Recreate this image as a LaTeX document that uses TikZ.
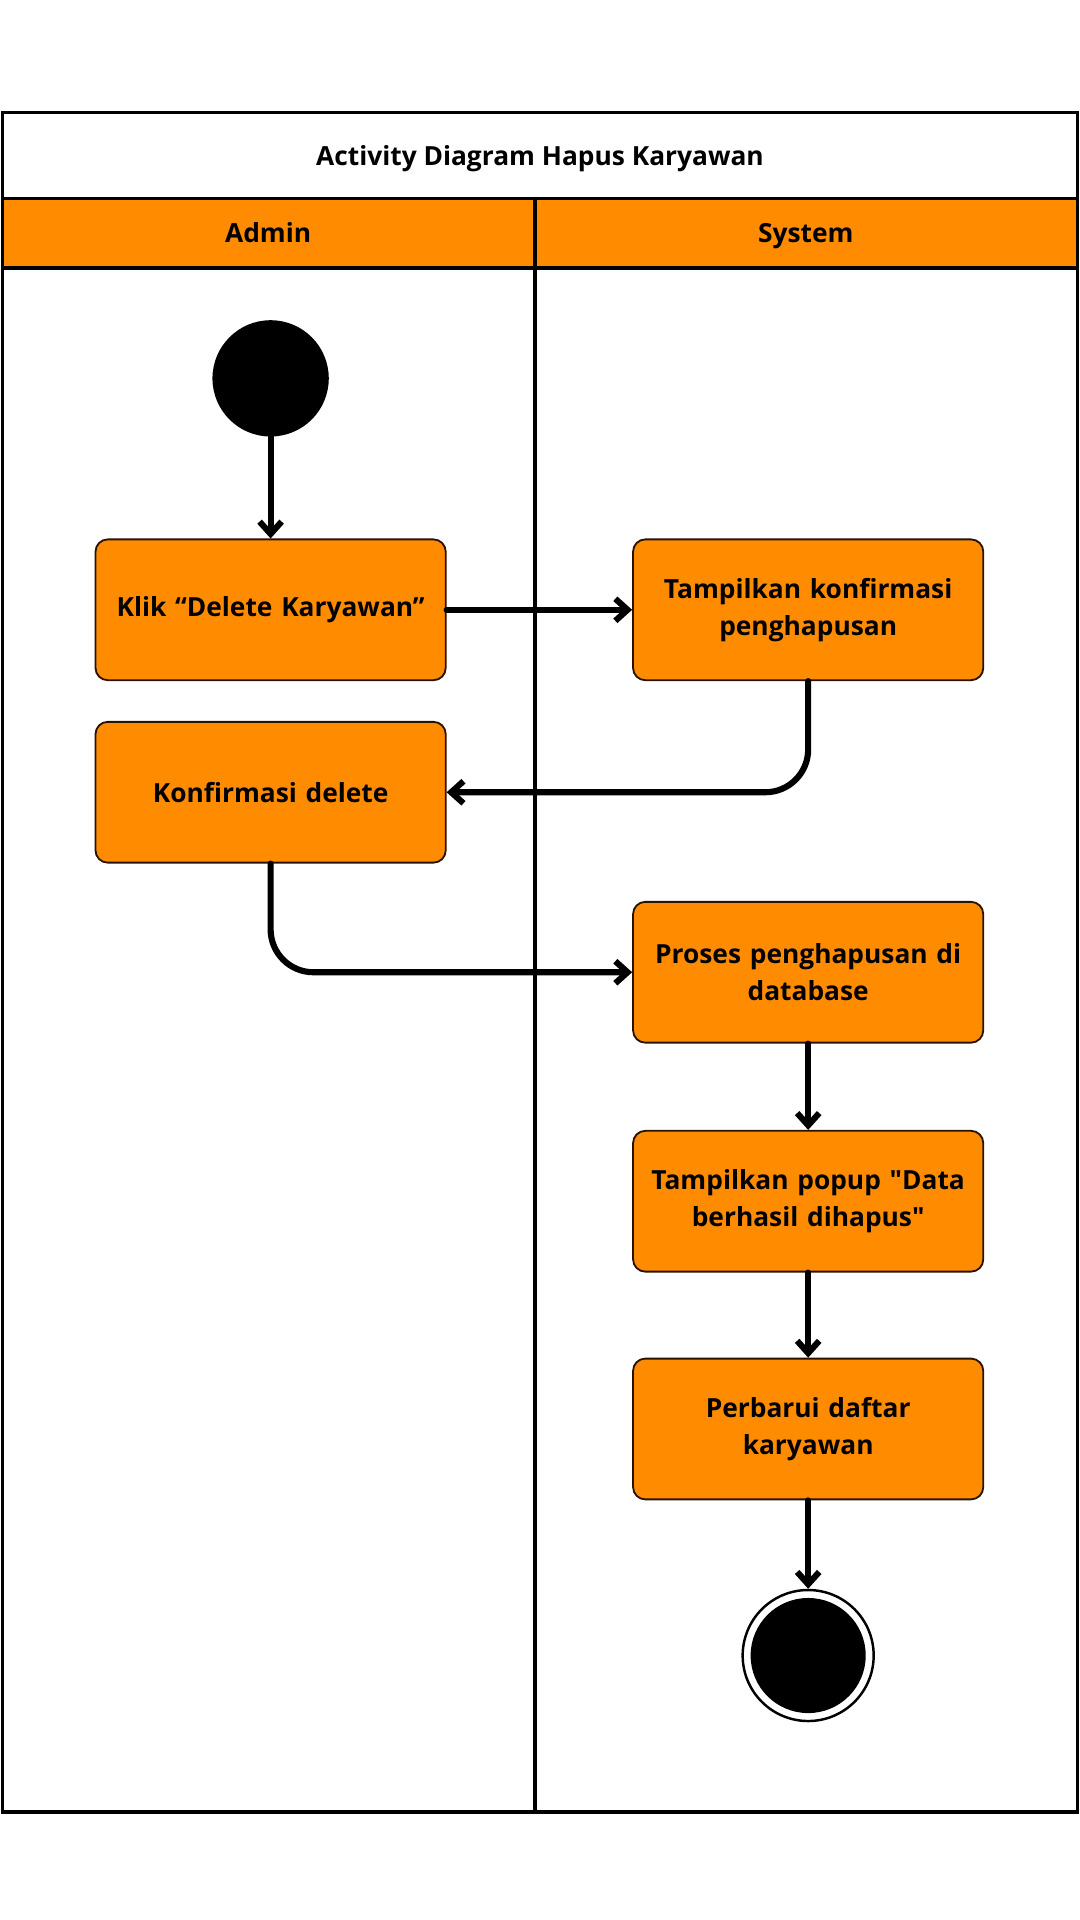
\documentclass[tikz,border=0pt]{standalone}
\usepackage{fontspec}
\setmainfont{Open Sans}[Ligatures=TeXOff]
\usetikzlibrary{arrows.meta}
\definecolor{org}{HTML}{FF8C00}
\definecolor{bord}{HTML}{2A1200}
\begin{document}
\begin{tikzpicture}[x=1pt,y=-1pt,
  act/.style={draw=bord, line width=1.5pt, fill=org, rounded corners=10pt,
    minimum width=286pt, minimum height=115pt, inner sep=0pt, text width=276pt,
    align=center, font=\fontsize{21.5}{30}\selectfont\bfseries},
  flow/.style={line width=5pt, line cap=round, line join=round, rounded corners=35pt,
    -{Straight Barb[length=10pt,width=18pt]}},
  lane/.style={anchor=base, font=\fontsize{21.5}{24}\selectfont\bfseries},
  frame/.style={line width=3pt}]
\useasboundingbox (0,0) rectangle (882,1568);
% frame and header
\fill[org] (2,162) rectangle (880,219);
\draw[frame] (2,92) rectangle (880,1480);
\draw[frame] (2,162) -- (880,162);
\draw[frame] (2,219) -- (880,219);
\draw[frame] (437,162) -- (437,1480);
\node[lane] (title) at (441,135) {Activity Diagram Hapus Karyawan};
\node[lane] (admin) at (219,198) {Admin};
\node[lane] (system) at (658,198) {System};
% nodes
\node[circle, fill=black, minimum size=95pt, inner sep=0pt] (start) at (221,309) {};
\node[act] (klik) at (221,498) {Klik “Delete Karyawan”};
\node[act] (tk) at (660,498) {Tampilkan konfirmasi\\penghapusan};
\node[act] (kd) at (221,647) {Konfirmasi delete};
\node[act] (pp) at (660,794) {Proses penghapusan di\\database};
\node[act] (tp) at (660,981) {Tampilkan popup "Data\\berhasil dihapus"};
\node[act] (pd) at (660,1167) {Perbarui daftar\\karyawan};
\node[circle, draw=black, line width=2pt, fill=white, minimum size=107pt, inner sep=0pt] (end) at (660,1352) {};
\node[circle, fill=black, minimum size=94pt, inner sep=0pt] (endin) at (end) {};
% flows
\draw[flow] (start) -- (klik);
\draw[flow] (klik) -- (tk);
\draw[flow] (tk.south) |- (kd.east);
\draw[flow] (kd.south) |- (pp.west);
\draw[flow] (pp) -- (tp);
\draw[flow] (tp) -- (pd);
\draw[flow] (pd) -- (end);
\end{tikzpicture}
\end{document}
